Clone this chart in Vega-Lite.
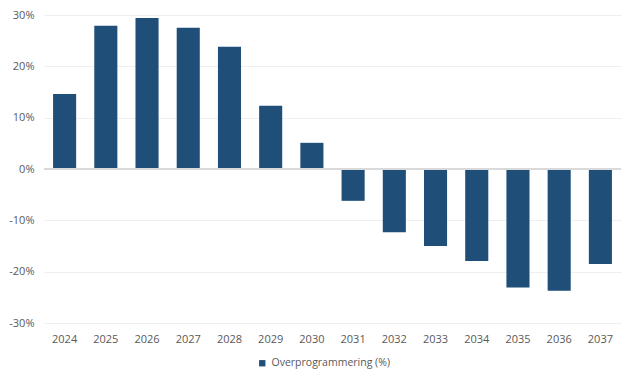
{
  "$schema": "https://vega.github.io/schema/vega-lite/v6.json",
  "width": 577,
  "height": 308,
  "autosize": "none",
  "padding": {"left": 44, "top": 15, "right": 15, "bottom": 62},
  "background": "white",
  "config": {
    "view": {"stroke": null},
    "font": "Open Sans",
    "axis": {"labelFont": "Open Sans", "labelColor": "#595959", "labelFontSize": 11}
  },
  "data": {
    "values": [
      {"year": "2024", "value": 0.146, "serie": "Overprogrammering (%)"},
      {"year": "2025", "value": 0.279, "serie": "Overprogrammering (%)"},
      {"year": "2026", "value": 0.294, "serie": "Overprogrammering (%)"},
      {"year": "2027", "value": 0.275, "serie": "Overprogrammering (%)"},
      {"year": "2028", "value": 0.238, "serie": "Overprogrammering (%)"},
      {"year": "2029", "value": 0.123, "serie": "Overprogrammering (%)"},
      {"year": "2030", "value": 0.051, "serie": "Overprogrammering (%)"},
      {"year": "2031", "value": -0.062, "serie": "Overprogrammering (%)"},
      {"year": "2032", "value": -0.123, "serie": "Overprogrammering (%)"},
      {"year": "2033", "value": -0.150, "serie": "Overprogrammering (%)"},
      {"year": "2034", "value": -0.179, "serie": "Overprogrammering (%)"},
      {"year": "2035", "value": -0.231, "serie": "Overprogrammering (%)"},
      {"year": "2036", "value": -0.237, "serie": "Overprogrammering (%)"},
      {"year": "2037", "value": -0.185, "serie": "Overprogrammering (%)"}
    ]
  },
  "layer": [
    {
      "mark": {"type": "bar"},
      "encoding": {
        "x": {
          "field": "year", "type": "ordinal",
          "scale": {"paddingInner": 0.44, "paddingOuter": 0.22},
          "axis": {"title": null, "domain": false, "ticks": false, "labelAngle": 0, "labelPadding": 10, "grid": false}
        },
        "y": {
          "field": "value", "type": "quantitative",
          "scale": {"domain": [-0.3, 0.3], "nice": false},
          "axis": {"title": null, "format": ".0%", "labelExpr": "replace(datum.label, '\u2212', '-')", "values": [-0.3, -0.2, -0.1, 0, 0.1, 0.2, 0.3], "domain": false, "ticks": false, "labelPadding": 10, "gridColor": "#efefef", "gridWidth": 1}
        },
        "color": {
          "field": "serie", "type": "nominal",
          "scale": {"range": ["#1F4E79"]},
          "legend": {"title": null, "orient": "none", "legendX": 213, "legendY": 343, "padding": 0, "symbolType": "square", "symbolSize": 40, "labelFontSize": 10.5, "labelColor": "#595959", "labelFont": "Open Sans", "labelOffset": 4}
        }
      }
    },
    {
      "mark": {"type": "rule", "color": "#d9d9d9", "strokeWidth": 1},
      "encoding": {"y": {"datum": 0, "type": "quantitative"}}
    }
  ]
}
